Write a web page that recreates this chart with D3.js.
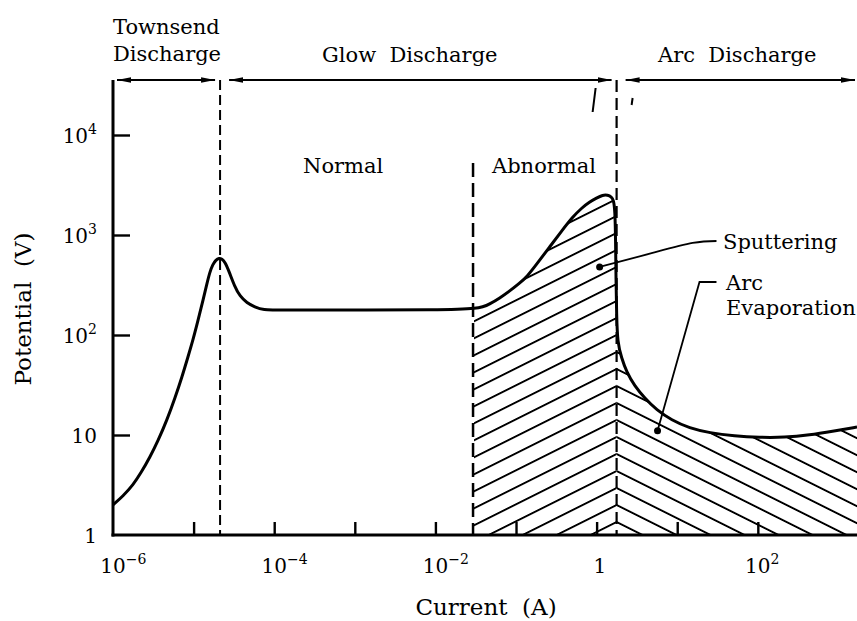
<!DOCTYPE html>
<html>
<head>
<meta charset="utf-8">
<script src="https://cdn.jsdelivr.net/npm/d3@7"></script>
<style>
  body { margin: 0; background: #fff; }
  svg text { font-family: "DejaVu Serif", "Liberation Serif", serif; fill: #000; }
</style>
</head>
<body>
<svg id="chart" width="857" height="621"></svg>
<script>
// Discharge curve: current (A)
var current = [
  1.00e-6, 1.33e-6, 1.77e-6, 2.22e-6, 2.88e-6, 3.61e-6, 4.67e-6, 5.87e-6, 7.17e-6, 8.51e-6,
  9.82e-6, 1.13e-5, 1.31e-5, 1.46e-5, 1.59e-5, 1.74e-5, 1.89e-5, 2.06e-5, 2.25e-5, 2.45e-5,
  2.74e-5, 3.25e-5, 3.75e-5, 4.58e-5, 5.76e-5, 7.23e-5, 1.17e-4, 1e-3, 1e-2,
  0.0354, 0.0471, 0.0627, 0.0834, 0.111, 0.136, 0.185, 0.261, 0.368, 0.504,
  0.652, 0.818, 1.00, 1.19, 1.37, 1.53, 1.62, 1.69, 1.72, 1.74,
  1.77, 1.82, 2.04, 2.35, 2.96, 3.94, 5.54, 8.50, 14.2, 25.2,
  51.3, 105, 214, 437, 891, 1700];
// ... and potential (V)
var potential = [
  2.00, 2.45, 3.16, 4.17, 6.03, 8.71, 14.1, 23.4, 38.0, 60.3,
  89.1, 138, 224, 324, 427, 513, 562, 589, 575, 537,
  437, 302, 245, 209, 191, 178, 178, 178, 178,
  182, 204, 234, 275, 331, 380, 525, 759, 1096, 1514,
  1862, 2138, 2344, 2512, 2512, 2399, 2239, 1778, 891, 355,
  158, 83.2, 58.9, 42.7, 30.9, 23.4, 17.8, 14.1, 11.7, 10.5,
  9.77, 9.44, 9.44, 10.0, 11.0, 12.0];

// Region boundaries (A): Townsend/glow, normal/abnormal, glow/arc
var boundaries = [2.13e-5, 0.0293, 1.77];
var regions = ['Townsend', 'Glow', 'Arc'];

// Ticks and their labels
var xTicks = [1e-5, 1e-4, 1e-3, 1e-2, 1e-1, 1, 10, 100];
var yTicks = [10, 100, 1000, 10000];
var xLabels = [
  {value: 1e-6, base: '10', exp: '\u22126'},
  {value: 1e-4, base: '10', exp: '\u22124'},
  {value: 1e-2, base: '10', exp: '\u22122'},
  {value: 1, base: '1', exp: ''},
  {value: 100, base: '10', exp: '2'}
];
var yLabels = [
  {value: 1, base: '1', exp: ''},
  {value: 10, base: '10', exp: ''},
  {value: 100, base: '10', exp: '2'},
  {value: 1000, base: '10', exp: '3'},
  {value: 10000, base: '10', exp: '4'}
];

// Leader lines for the two annotations, in data units
var sputterLeader = [[1.09, 479], [4.94, 661], [15.5, 832], [30.7, 871]];
var arcLeader = [[5.70, 11.0], [18.9, 339], [30.7, 339]];

var svg = d3.select('#chart');
var x = d3.scaleLog().domain([1e-6, 1700]).range([113, 857]);
var y = d3.scaleLog().domain([1, Math.pow(10, 4.55)]).range([535, 80]);

var data = current.map(function (c, i) { return {c: c, v: potential[i]}; });

var defs = svg.append('defs');

// Arrowhead for the region arrows
defs.append('marker')
  .attr('id', 'arrow')
  .attr('viewBox', '0 0 14 8')
  .attr('refX', 14).attr('refY', 4)
  .attr('markerWidth', 14).attr('markerHeight', 8)
  .attr('markerUnits', 'userSpaceOnUse')
  .attr('orient', 'auto-start-reverse')
  .append('path')
  .attr('d', 'M0,1.2 L14,4 L0,6.8 Z')
  .attr('fill', '#000');

// Hatch patterns, mirrored about the arc boundary so they meet in chevrons
var hatchGap = 17 * Math.cos(Math.atan(0.5));
var hatchY0 = 403;
[['hatchUp', -26.57], ['hatchDown', 26.57]].forEach(function (p) {
  var pat = defs.append('pattern')
    .attr('id', p[0])
    .attr('patternUnits', 'userSpaceOnUse')
    .attr('width', 40)
    .attr('height', hatchGap)
    .attr('patternTransform', 'translate(' + x(boundaries[2]) + ',' + hatchY0 + ') rotate(' + p[1] + ')');
  [0, hatchGap].forEach(function (yy) {
    pat.append('line')
      .attr('x1', 0).attr('x2', 40)
      .attr('y1', yy).attr('y2', yy)
      .attr('stroke', '#000')
      .attr('stroke-width', 2);
  });
});

// Area under the curve, used as a clip for the hatching
var curveType = d3.curveBasis;
var area = d3.area()
  .x(function (d) { return x(d.c); })
  .y0(y(1))
  .y1(function (d) { return y(d.v); })
  .curve(curveType);

defs.append('clipPath').attr('id', 'underCurve')
  .append('path')
  .attr('d', area(data));

// Sputtering (abnormal glow) and arc evaporation hatching
svg.append('rect')
  .attr('x', x(boundaries[1]) + 1)
  .attr('y', y.range()[1])
  .attr('width', x(boundaries[2]) - x(boundaries[1]) - 1)
  .attr('height', y(1) - y.range()[1])
  .attr('fill', 'url(#hatchUp)')
  .attr('clip-path', 'url(#underCurve)');

svg.append('rect')
  .attr('x', x(boundaries[2]))
  .attr('y', y.range()[1])
  .attr('width', x.range()[1] - x(boundaries[2]))
  .attr('height', y(1) - y.range()[1])
  .attr('fill', 'url(#hatchDown)')
  .attr('clip-path', 'url(#underCurve)');

// Axes: ticks point inward, no labels from d3
var yAxis = svg.append('g')
  .attr('transform', 'translate(' + x(1e-6) + ',0)')
  .call(d3.axisRight(y).tickValues(yTicks).tickSize(17).tickFormat(''));
var xAxis = svg.append('g')
  .attr('transform', 'translate(0,' + y(1) + ')')
  .call(d3.axisTop(x).tickValues(xTicks).tickSize(13).tickFormat(''));
[yAxis, xAxis].forEach(function (g) {
  g.select('.domain').remove();
  g.selectAll('line').attr('stroke', '#000').attr('stroke-width', 2.4);
});

// Frame lines
svg.append('line')
  .attr('x1', x(1e-6)).attr('x2', x(1e-6))
  .attr('y1', y.range()[1]).attr('y2', y(1) + 1.5)
  .attr('stroke', '#000').attr('stroke-width', 3);
svg.append('line')
  .attr('x1', x(1e-6) - 1.5).attr('x2', x.range()[1])
  .attr('y1', y(1)).attr('y2', y(1))
  .attr('stroke', '#000').attr('stroke-width', 3);

// Dashed region boundaries
var dashStyle = [
  {top: y.range()[1], dash: '10,5', w: 2},
  {top: 163, dash: '14,6', w: 2.5},
  {top: y.range()[1], dash: '12,6', w: 2.2}
];
boundaries.forEach(function (b, i) {
  svg.append('line')
    .attr('x1', x(b)).attr('x2', x(b))
    .attr('y1', dashStyle[i].top).attr('y2', y(1))
    .attr('stroke', '#000')
    .attr('stroke-width', dashStyle[i].w)
    .attr('stroke-dasharray', dashStyle[i].dash);
});

// Region arrows along the top (glow spans normal + abnormal)
var edges = [x.domain()[0], boundaries[0], boundaries[2], x.domain()[1]];
regions.forEach(function (r, i) {
  svg.append('line')
    .attr('x1', x(edges[i]) + (i === 0 ? 4 : 9))
    .attr('x2', x(edges[i + 1]) - (i === 2 ? 2 : 5))
    .attr('y1', y.range()[1]).attr('y2', y.range()[1])
    .attr('stroke', '#000')
    .attr('stroke-width', 1.8)
    .attr('marker-start', 'url(#arrow)')
    .attr('marker-end', 'url(#arrow)');
});

// little break strokes near the arc boundary
svg.append('path')
  .attr('d', 'M' + (x(boundaries[2]) - 21) + ',88 L' + (x(boundaries[2]) - 24) + ',112')
  .attr('stroke', '#000').attr('stroke-width', 2);
svg.append('path')
  .attr('d', 'M' + (x(boundaries[2]) + 16) + ',98 L' + (x(boundaries[2]) + 15) + ',105')
  .attr('stroke', '#000').attr('stroke-width', 2);

// The discharge curve
var line = d3.line()
  .x(function (d) { return x(d.c); })
  .y(function (d) { return y(d.v); })
  .curve(curveType);

svg.append('path')
  .attr('d', line(data))
  .attr('fill', 'none')
  .attr('stroke', '#000')
  .attr('stroke-width', 3)
  .attr('stroke-linejoin', 'round');

// Leader lines and dots
svg.append('path')
  .attr('d', d3.line().x(function (d) { return x(d[0]); }).y(function (d) { return y(d[1]); })
    .curve(d3.curveNatural)(sputterLeader))
  .attr('fill', 'none').attr('stroke', '#000').attr('stroke-width', 1.8);
svg.append('path')
  .attr('d', d3.line().x(function (d) { return x(d[0]); }).y(function (d) { return y(d[1]); })(arcLeader))
  .attr('fill', 'none').attr('stroke', '#000').attr('stroke-width', 1.8);
[sputterLeader[0], arcLeader[0]].forEach(function (p) {
  svg.append('circle')
    .attr('cx', x(p[0])).attr('cy', y(p[1]))
    .attr('r', 3.5).attr('fill', '#000');
});

// Tick labels with superscripts
xLabels.forEach(function (l) {
  var t = svg.append('text')
    .attr('x', x(l.value) - (l.base === '10' ? 12.7 : 3.2))
    .attr('y', 573)
    .attr('font-size', 20);
  t.append('tspan').text(l.base);
  if (l.exp) t.append('tspan').attr('dy', -9).attr('font-size', 14).text(l.exp);
});
yLabels.forEach(function (l) {
  var t = svg.append('text')
    .attr('x', 97)
    .attr('y', y(l.value) + 8)
    .attr('font-size', 20)
    .attr('text-anchor', 'end');
  t.append('tspan').text(l.base);
  if (l.exp) t.append('tspan').attr('dy', -9).attr('font-size', 14).text(l.exp);
});

// Axis titles
svg.append('text')
  .attr('x', 486).attr('y', 615)
  .attr('font-size', 23)
  .attr('text-anchor', 'middle')
  .attr('xml:space', 'preserve')
  .text('Current  (A)');
svg.append('text')
  .attr('transform', 'translate(31,309) rotate(-90)')
  .attr('font-size', 23)
  .attr('text-anchor', 'middle')
  .attr('xml:space', 'preserve')
  .text('Potential  (V)');

// Region and annotation labels
var labels = [
  {t: 'Townsend', x: 113, y: 34},
  {t: 'Discharge', x: 113, y: 61},
  {t: 'Glow  Discharge', x: 322, y: 62},
  {t: 'Arc  Discharge', x: 658, y: 62},
  {t: 'Normal', x: 303, y: 173},
  {t: 'Abnormal', x: 492, y: 173},
  {t: 'Sputtering', x: 723, y: 249},
  {t: 'Arc', x: 726, y: 290},
  {t: 'Evaporation', x: 726, y: 315}
];
svg.selectAll('.label')
  .data(labels).enter()
  .append('text')
  .attr('class', 'label')
  .attr('x', function (d) { return d.x; })
  .attr('y', function (d) { return d.y; })
  .attr('font-size', 21)
  .attr('xml:space', 'preserve')
  .text(function (d) { return d.t; });
</script>
</body>
</html>
